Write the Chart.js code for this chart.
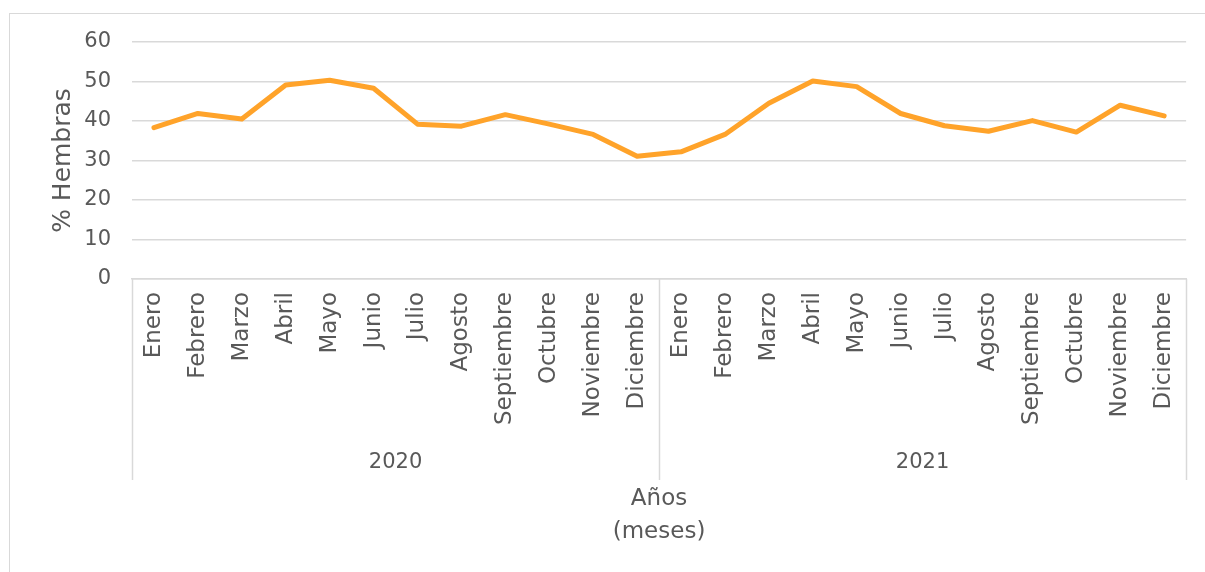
<!DOCTYPE html>
<html>
<head>
<meta charset="utf-8">
<script src="https://cdn.jsdelivr.net/npm/chart.js@4.4.1/dist/chart.umd.min.js"></script>
<style>
    html, body { margin: 0; padding: 0; background: #fff; overflow: hidden; }
    #frame {
        position: absolute; left: 9px; top: 13px;
        width: 1220px; height: 600px;
        border: 1px solid #d9d9d9; box-sizing: border-box;
    }
    #wrap { position: absolute; left: 0; top: 0; width: 1205px; height: 572px; }
</style>
</head>
<body>
<div id="frame"></div>
<div id="wrap"><canvas id="hembrasChart"></canvas></div>
<script>
const months = ['Enero', 'Febrero', 'Marzo', 'Abril', 'Mayo', 'Junio', 'Julio',
    'Agosto', 'Septiembre', 'Octubre', 'Noviembre', 'Diciembre'];
const years = ['2020', '2021'];
const monthLabels = years.flatMap(() => months);

// % de hembras por mes (2020 y luego 2021)
const hembras = [
    38.3, 41.9, 40.5, 49.1, 50.3, 48.3, 39.2, 38.7, 41.6, 39.2, 36.6, 31.1,
    32.2, 36.6, 44.5, 50.1, 48.7, 41.9, 38.8, 37.4, 40.1, 37.2, 44.0, 41.3
];

const yTicks = [0, 10, 20, 30, 40, 50, 60];

const textColor = '#595959';
const lineGray = '#d9d9d9';
const fontFamily = "'DejaVu Sans', sans-serif";

// separators between the two year groups, as in the Excel multi-level axis
const yearDividers = {
    id: 'yearDividers',
    afterDraw(chart) {
        const xs = chart.scales.x;
        const x2 = chart.scales.x2;
        const step = xs.getPixelForValue(1) - xs.getPixelForValue(0);
        const ctx = chart.ctx;
        ctx.save();
        ctx.strokeStyle = lineGray;
        ctx.lineWidth = 1.5;
        for (let i = 0; i <= monthLabels.length; i += months.length) {
            const x = Math.round(xs.getPixelForValue(0) - step / 2 + i * step) + 0.5;
            ctx.beginPath();
            ctx.moveTo(x, chart.chartArea.bottom);
            ctx.lineTo(x, x2.top + 40);
            ctx.stroke();
        }
        ctx.restore();
    }
};

new Chart(document.getElementById('hembrasChart'), {
    type: 'line',
    data: {
        labels: monthLabels,
        datasets: [{
            data: hembras,
            borderColor: '#ffa32a',
            borderWidth: 5,
            pointRadius: 0,
            tension: 0,
            borderJoinStyle: 'round',
            borderCapStyle: 'round'
        }]
    },
    options: {
        responsive: true,
        maintainAspectRatio: false,
        animation: false,
        devicePixelRatio: 1,
        layout: { padding: { left: 44, top: 42, right: 12, bottom: 19 } },
        plugins: { legend: { display: false }, tooltip: { enabled: false } },
        scales: {
            y: {
                min: 0,
                max: 60,
                afterBuildTicks(scale) { scale.ticks = yTicks.map(v => ({ value: v })); },
                afterFit(scale) { scale.width = 88; },
                grid: { color: lineGray, lineWidth: 1.5, drawTicks: false },
                border: { display: false },
                ticks: { color: textColor, font: { family: fontFamily, size: 21 }, padding: 21 },
                title: {
                    display: true, text: '% Hembras', color: textColor,
                    font: { family: fontFamily, size: 25 }, padding: { top: 4, bottom: 0 }
                }
            },
            x: {
                weight: 0,
                offset: true,
                afterFit(scale) { scale.height = 161; },
                grid: { display: false, drawTicks: false, offset: true },
                border: { display: true, color: lineGray, width: 1.5 },
                ticks: {
                    color: textColor, font: { family: fontFamily, size: 23 },
                    maxRotation: 90, minRotation: 90, autoSkip: false, padding: 13
                }
            },
            x2: {
                type: 'category',
                position: 'bottom',
                weight: 1,
                labels: years,
                offset: true,
                afterFit(scale) { scale.height = 113; },
                grid: { display: false, drawTicks: false },
                border: { display: false },
                ticks: { color: textColor, font: { family: fontFamily, size: 21 }, padding: 10 },
                title: {
                    display: true, text: ['Años', '(meses)'], color: textColor,
                    font: { family: fontFamily, size: 23, lineHeight: 1.45 },
                    padding: { top: 0, bottom: 4 }
                }
            }
        }
    },
    plugins: [yearDividers]
});
</script>
</body>
</html>
